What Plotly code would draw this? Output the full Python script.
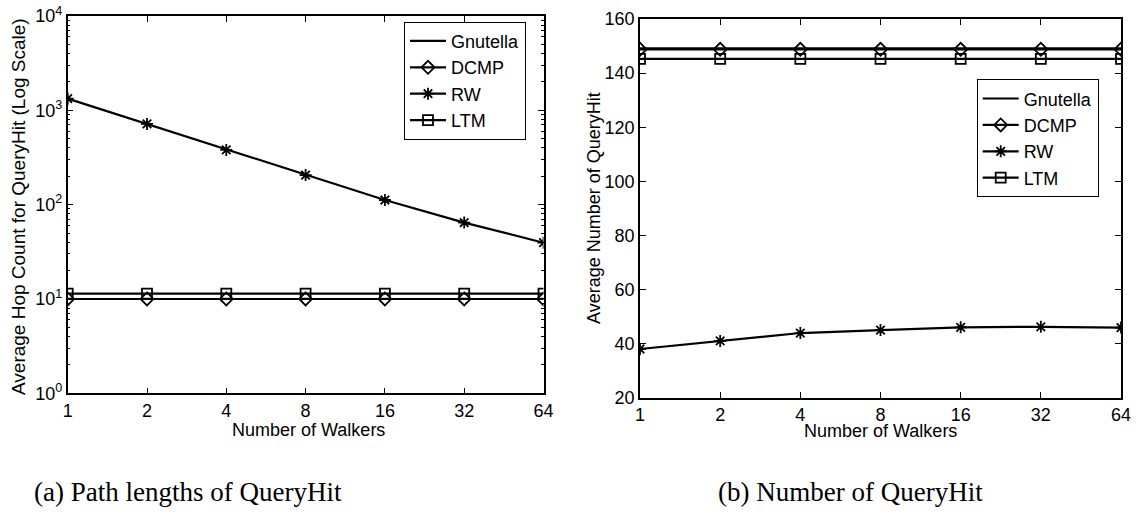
import plotly.graph_objects as go

walkers = [1, 2, 4, 8, 16, 32, 64]
walker_labels = ["1", "2", "4", "8", "16", "32", "64"]

# (a) Average hop count for QueryHit (log scale)
hop_gnutella = [10.0, 10.0, 10.0, 10.0, 10.0, 10.0, 10.0]
hop_dcmp = [10.0, 10.0, 10.0, 10.0, 10.0, 10.0, 10.0]
hop_rw = [1330, 717, 380, 206, 112, 64.5, 39.5]
hop_ltm = [11.4, 11.4, 11.4, 11.4, 11.4, 11.4, 11.4]

# (b) Average number of QueryHit
num_gnutella = [149.2, 149.2, 149.2, 149.2, 149.2, 149.2, 149.2]
num_dcmp = [148.8, 148.8, 148.8, 148.8, 148.8, 148.8, 148.8]
num_rw = [38.1, 41.1, 44.0, 45.1, 46.1, 46.3, 46.0]
num_ltm = [145.3, 145.3, 145.3, 145.3, 145.3, 145.3, 145.3]

log_tickvals = [1, 10, 100, 1000, 10000]
log_ticktext = ["10<sup>0</sup>", "10<sup>1</sup>", "10<sup>2</sup>", "10<sup>3</sup>", "10<sup>4</sup>"]
log_minor = [m * d for d in [1, 10, 100, 1000] for m in range(2, 10)]
lin_tickvals = [20, 40, 60, 80, 100, 120, 140, 160]

FONT = "Liberation Sans, Arial, Helvetica, sans-serif"
SERIF = "Liberation Serif, DejaVu Serif, serif"
LW = 2.2

fig = go.Figure()

def add_series(x, y, name, symbol, xa, ya, legend, show_marker=True):
    fig.add_trace(go.Scatter(
        x=x, y=y, name=name, xaxis=xa, yaxis=ya, legend=legend,
        mode="lines+markers" if show_marker else "lines",
        line=dict(color="black", width=LW),
        marker=dict(symbol=symbol, size=10, color="black",
                    line=dict(color="black", width=1.8)),
    ))

add_series(walkers, hop_gnutella, "Gnutella", "circle", "x", "y", "legend", False)
add_series(walkers, hop_dcmp, "DCMP", "diamond-open", "x", "y", "legend")
add_series(walkers, hop_rw, "RW", "asterisk-open", "x", "y", "legend")
add_series(walkers, hop_ltm, "LTM", "square-open", "x", "y", "legend")

add_series(walkers, num_gnutella, "Gnutella", "circle", "x2", "y2", "legend2", False)
add_series(walkers, num_dcmp, "DCMP", "diamond-open", "x2", "y2", "legend2")
add_series(walkers, num_rw, "RW", "asterisk-open", "x2", "y2", "legend2")
add_series(walkers, num_ltm, "LTM", "square-open", "x2", "y2", "legend2")

W, H = 1146, 517

def px(v):
    return v / W

def py(v):
    return 1 - v / H

axis_common = dict(
    showgrid=False, zeroline=False, showline=True, linecolor="black", linewidth=1.5,
    mirror="ticks", ticks="inside", ticklen=6, tickcolor="black", tickwidth=1,
    tickfont=dict(family=FONT, size=18, color="black"), automargin=False,
)

legend_common = dict(
    xanchor="left", yanchor="top", bordercolor="black", borderwidth=1,
    bgcolor="white", font=dict(family=FONT, size=18, color="black"),
    tracegroupgap=0, itemwidth=36,
)

fig.update_layout(
    width=W, height=H,
    margin=dict(l=0, r=0, t=0, b=0, autoexpand=False),
    paper_bgcolor="white", plot_bgcolor="white",
    xaxis=dict(axis_common, type="log", domain=[px(67.7), px(543.5)],
               range=[0, 1.80618], tickvals=walkers, ticktext=walker_labels,
               anchor="y"),
    yaxis=dict(axis_common, type="log", domain=[py(393.3), py(16)],
               range=[0, 4], tickvals=log_tickvals, ticktext=log_ticktext,
               anchor="x",
               minor=dict(tickvals=log_minor, ticks="inside", ticklen=3,
                          tickcolor="black", showgrid=False)),
    xaxis2=dict(axis_common, type="log", domain=[px(640), px(1121)],
                range=[0, 1.80618], tickvals=walkers, ticktext=walker_labels,
                anchor="y2"),
    yaxis2=dict(axis_common, domain=[py(398), py(19)], range=[20, 160],
                tickvals=lin_tickvals, anchor="x2"),
    legend=dict(legend_common, x=px(404), y=py(21.7)),
    legend2=dict(legend_common, x=px(976.7), y=py(79.3)),
    showlegend=True,
)

annots = [
    dict(text="Average Hop Count for QueryHit (Log Scale)", x=px(19), y=py(207),
         textangle=-90, font=dict(family=FONT, size=19, color="black")),
    dict(text="Number of Walkers", x=px(308), y=py(430),
         font=dict(family=FONT, size=18, color="black")),
    dict(text="Average Number of QueryHit", x=px(594), y=py(208),
         textangle=-90, font=dict(family=FONT, size=18, color="black")),
    dict(text="Number of Walkers", x=px(880), y=py(431),
         font=dict(family=FONT, size=18, color="black")),
    dict(text="(a) Path lengths of QueryHit", x=px(188), y=py(492),
         font=dict(family=SERIF, size=27, color="black")),
    dict(text="(b) Number of QueryHit", x=px(850), y=py(492),
         font=dict(family=SERIF, size=27, color="black")),
]
for a in annots:
    fig.add_annotation(xref="paper", yref="paper", showarrow=False,
                       xanchor="center", yanchor="middle", **a)

fig.write_html("out.html")
